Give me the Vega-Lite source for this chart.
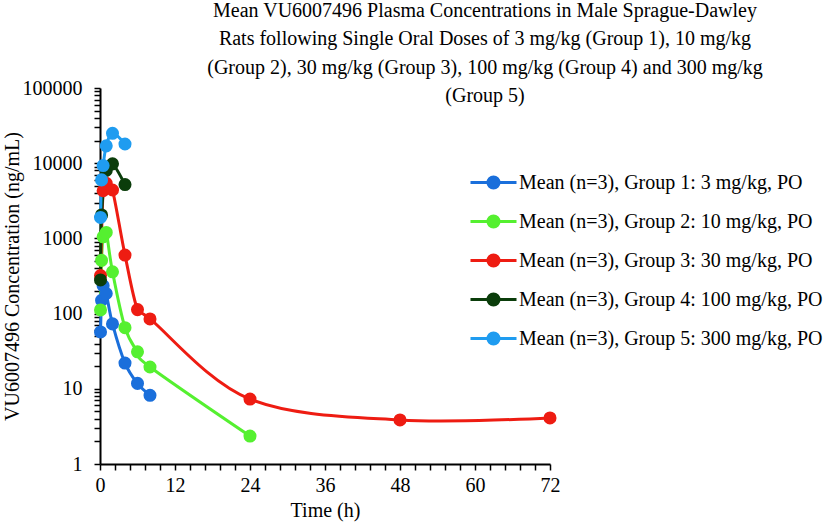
{
  "$schema": "https://vega.github.io/schema/vega-lite/v6.json",
  "width": 450,
  "height": 376,
  "autosize": "none",
  "padding": {"left": 100, "top": 88, "right": 277, "bottom": 63},
  "background": "white",
  "config": {
    "font": "Liberation Serif",
    "view": {"stroke": null},
    "axis": {
      "domainColor": "black", "domainWidth": 2, "tickColor": "black", "tickWidth": 1.5,
      "labelColor": "black", "titleColor": "black", "labelFont": "Liberation Serif", "titleFont": "Liberation Serif",
      "labelFontSize": 20, "titleFontSize": 20, "titleFontWeight": "normal", "grid": false,
      "labelOverlap": false, "labelFlush": false
    },
    "legend": {"labelFont": "Liberation Serif", "labelFontSize": 20, "labelColor": "black"}
  },
  "title": {
    "text": [
      "Mean VU6007496 Plasma Concentrations in Male Sprague-Dawley",
      "Rats following Single Oral Doses of 3 mg/kg (Group 1), 10 mg/kg",
      "(Group 2), 30 mg/kg (Group 3), 100 mg/kg (Group 4) and 300 mg/kg",
      "(Group 5)"
    ],
    "font": "Liberation Serif",
    "fontSize": 20,
    "fontWeight": "normal",
    "color": "black",
    "lineHeight": 28.5,
    "anchor": "middle",
    "frame": "group",
    "baseline": "alphabetic",
    "dx": 160,
    "offset": 0,
    "dy": 44
  },
  "data": {
    "values": [
      {"series": "Mean (n=3), Group 1: 3 mg/kg, PO", "t": 0.083, "c": 57},
      {"series": "Mean (n=3), Group 1: 3 mg/kg, PO", "t": 0.25, "c": 150},
      {"series": "Mean (n=3), Group 1: 3 mg/kg, PO", "t": 0.5, "c": 235},
      {"series": "Mean (n=3), Group 1: 3 mg/kg, PO", "t": 1, "c": 185},
      {"series": "Mean (n=3), Group 1: 3 mg/kg, PO", "t": 2, "c": 73},
      {"series": "Mean (n=3), Group 1: 3 mg/kg, PO", "t": 4, "c": 22},
      {"series": "Mean (n=3), Group 1: 3 mg/kg, PO", "t": 6, "c": 11.8},
      {"series": "Mean (n=3), Group 1: 3 mg/kg, PO", "t": 8, "c": 8.2},
      {"series": "Mean (n=3), Group 2: 10 mg/kg, PO", "t": 0.083, "c": 112},
      {"series": "Mean (n=3), Group 2: 10 mg/kg, PO", "t": 0.25, "c": 510},
      {"series": "Mean (n=3), Group 2: 10 mg/kg, PO", "t": 0.5, "c": 1050},
      {"series": "Mean (n=3), Group 2: 10 mg/kg, PO", "t": 1, "c": 1200},
      {"series": "Mean (n=3), Group 2: 10 mg/kg, PO", "t": 2, "c": 360},
      {"series": "Mean (n=3), Group 2: 10 mg/kg, PO", "t": 4, "c": 65},
      {"series": "Mean (n=3), Group 2: 10 mg/kg, PO", "t": 6, "c": 31},
      {"series": "Mean (n=3), Group 2: 10 mg/kg, PO", "t": 8, "c": 19.5},
      {"series": "Mean (n=3), Group 2: 10 mg/kg, PO", "t": 24, "c": 2.35},
      {"series": "Mean (n=3), Group 3: 30 mg/kg, PO", "t": 0.083, "c": 320},
      {"series": "Mean (n=3), Group 3: 30 mg/kg, PO", "t": 0.5, "c": 4300},
      {"series": "Mean (n=3), Group 3: 30 mg/kg, PO", "t": 1, "c": 5400},
      {"series": "Mean (n=3), Group 3: 30 mg/kg, PO", "t": 2, "c": 4400},
      {"series": "Mean (n=3), Group 3: 30 mg/kg, PO", "t": 4, "c": 600},
      {"series": "Mean (n=3), Group 3: 30 mg/kg, PO", "t": 6, "c": 113},
      {"series": "Mean (n=3), Group 3: 30 mg/kg, PO", "t": 8, "c": 85},
      {"series": "Mean (n=3), Group 3: 30 mg/kg, PO", "t": 24, "c": 7.3},
      {"series": "Mean (n=3), Group 3: 30 mg/kg, PO", "t": 48, "c": 3.85},
      {"series": "Mean (n=3), Group 3: 30 mg/kg, PO", "t": 72, "c": 4.1},
      {"series": "Mean (n=3), Group 4: 100 mg/kg, PO", "t": 0.083, "c": 280},
      {"series": "Mean (n=3), Group 4: 100 mg/kg, PO", "t": 0.25, "c": 2050},
      {"series": "Mean (n=3), Group 4: 100 mg/kg, PO", "t": 1, "c": 8000},
      {"series": "Mean (n=3), Group 4: 100 mg/kg, PO", "t": 2, "c": 9800},
      {"series": "Mean (n=3), Group 4: 100 mg/kg, PO", "t": 4, "c": 5200},
      {"series": "Mean (n=3), Group 5: 300 mg/kg, PO", "t": 0.083, "c": 1900},
      {"series": "Mean (n=3), Group 5: 300 mg/kg, PO", "t": 0.25, "c": 6000},
      {"series": "Mean (n=3), Group 5: 300 mg/kg, PO", "t": 0.5, "c": 9300},
      {"series": "Mean (n=3), Group 5: 300 mg/kg, PO", "t": 1, "c": 17000},
      {"series": "Mean (n=3), Group 5: 300 mg/kg, PO", "t": 2, "c": 25000},
      {"series": "Mean (n=3), Group 5: 300 mg/kg, PO", "t": 4, "c": 18000}
    ]
  },
  "encoding": {
    "x": {
      "field": "t", "type": "quantitative", "title": "Time (h)",
      "scale": {"domain": [0, 72], "nice": false, "zero": false},
      "axis": {
        "values": [0, 2.4, 4.8, 7.2, 9.6, 12, 14.4, 16.8, 19.2, 21.6, 24, 26.4, 28.8, 31.2, 33.6, 36, 38.4, 40.8, 43.2, 45.6, 48, 50.4, 52.8, 55.2, 57.6, 60, 62.4, 64.8, 67.2, 69.6, 72],
        "labelExpr": "datum.value % 12 === 0 ? datum.value : ''",
        "tickSize": 6, "labelPadding": 5, "titlePadding": 5
      }
    },
    "y": {
      "field": "c", "type": "quantitative", "title": "VU6007496 Concentration (ng/mL)",
      "scale": {"type": "log", "domain": [1, 100000], "nice": false},
      "axis": {
        "values": [1, 2, 3, 4, 5, 6, 7, 8, 9, 10, 20, 30, 40, 50, 60, 70, 80, 90, 100, 200, 300, 400, 500, 600, 700, 800, 900, 1000, 2000, 3000, 4000, 5000, 6000, 7000, 8000, 9000, 10000, 20000, 30000, 40000, 50000, 60000, 70000, 80000, 90000, 100000],
        "labelExpr": "indexof(['1','10','100','1000','10000','100000'], '' + datum.value) >= 0 ? '' + datum.value : ''",
        "tickSize": 6, "labelPadding": 12, "titlePadding": 0
      }
    },
    "color": {
      "field": "series", "type": "nominal", "title": null,
      "scale": {
        "domain": ["Mean (n=3), Group 1: 3 mg/kg, PO", "Mean (n=3), Group 2: 10 mg/kg, PO", "Mean (n=3), Group 3: 30 mg/kg, PO", "Mean (n=3), Group 4: 100 mg/kg, PO", "Mean (n=3), Group 5: 300 mg/kg, PO"],
        "range": ["#1a6fdb", "#55f030", "#ee1c12", "#0b3d0b", "#1f9cf0"]
      },
      "legend": {
        "orient": "none", "legendX": 369, "legendY": 70, "padding": 0,
        "symbolType": "M-1,0H1M0.24,0A0.24,0.24 0 1,1 -0.24,0A0.24,0.24 0 1,1 0.24,0Z",
        "symbolSize": 2116, "symbolStrokeWidth": 3, "labelOffset": 1, "labelLimit": 500,
        "rowPadding": 2,
        "encode": {"symbols": {"update": {
          "stroke": {"scale": "color", "field": "value"},
          "fill": {"scale": "color", "field": "value"},
          "opacity": {"value": 1}, "fillOpacity": {"value": 1}, "strokeOpacity": {"value": 1}
        }}}
      }
    }
  },
  "layer": [
    {
      "mark": {"type": "line", "interpolate": "cardinal", "strokeWidth": 3},
      "encoding": {}
    },
    {
      "mark": {"type": "point", "shape": "circle", "filled": true, "opacity": 1, "size": 170},
      "encoding": {}
    }
  ]
}
